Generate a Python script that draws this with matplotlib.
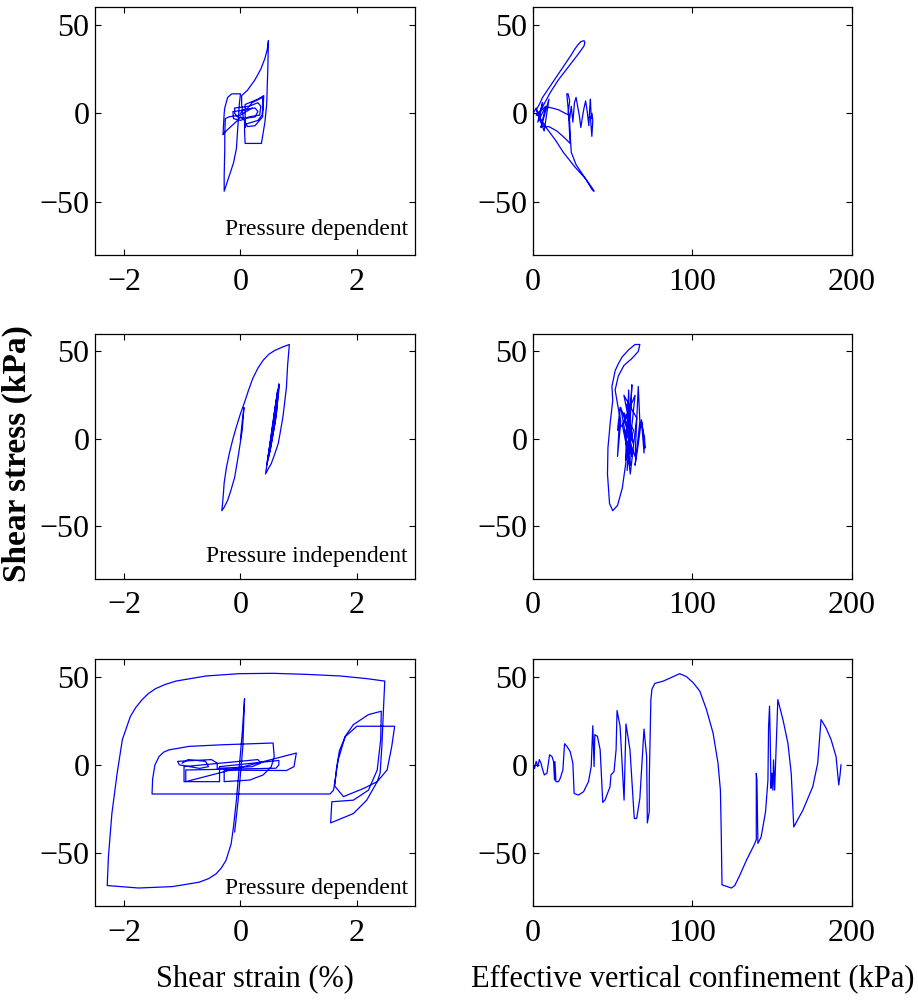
# Stress-strain and stress-path panels for three element responses

import matplotlib
matplotlib.use('Agg')
import matplotlib.pyplot as plt

# ---- top row: pressure dependent, small shaking
strain_top = [0, 0.05, 0.25, 0.3, 0.25, 0.05, -0.05, -0.1, -0.1, 0.15, 0.3, 0.35, 0.33, 0.15, 0.0,
              -0.12, -0.13, 0.1, 0.2, 0.38, 0.39, 0.37, 0.3, 0.1, 0.08, 0.08, 0.3, 0.4, 0.38, 0.25,
              0.12, 0.05, 0.02, 0.02, 0.12, 0.25, 0.35, 0.42, 0.46, 0.48, 0.47, 0.45, 0.42, 0.38, 0.36,
              0.08, 0.07, 0.07, 0.0, -0.05, -0.28, -0.3, -0.28, -0.27, -0.22, -0.15, 0.0, -0.02,
              -0.05, -0.07, -0.12, -0.2, -0.28, -0.28, -0.27, -0.27, -0.26, -0.2, 0.0, 0.1, 0.2]
stress_top = [0, 2, 3, 1, -2, -3, -2, 0, 3, 4, 6, 4, -1, -2, -4,
              -3, 1, 2, 6, 9, 4, -1, -4, -6, -8, 5, 8, 10, -2, -7,
              -7.5, -3, 5, 10, 13, 19, 25, 31, 36, 41, 25, 5, -5, -13, -17,
              -17, -10, -3, -2, -4, -11, -12, 0, 3, 9, 11, 11, 5,
              -10, -20, -28, -36, -44, -35, -20, -12, -3, -2, -1, 1, 3]
conf_top = [0, 2, 4, 6, 3, 8, 5, 10, 7, 2, 4, 6, 9, 12, 15, 18, 21, 24, 26, 28, 30, 32, 32.5, 32,
            30, 28, 25, 22, 19, 16, 13.5, 11, 8, 5,
            2, 7.7, 12, 16, 22.3, 23.3, 20, 15, 10, 6.7, 3, 4, 9, 14, 19, 26, 33, 37, 38.3, 37,
            33, 27, 24, 23.5, 23, 22, 21.2, 22, 23, 22, 23, 24, 25, 26, 27, 28, 29, 30, 31, 32,
            33, 34, 35, 35.5, 36, 36.5, 37, 37.5, 36.9, 36]
stress_top2 = [0, 3, -2, 6, -5, 4, -8, 8, -10, 2, 5, 9, 13, 17, 21, 25, 29, 33, 36, 38.5, 40.5, 41, 40, 38,
               35.5, 33, 29.5, 26, 22.5, 19, 15.5, 12, 7, 2,
               -1, 3.7, 3, 2, -1, -17, -14, -10, -7.5, -7.5, -1, -2, -9, -15, -22, -30, -37, -42, -44, -43,
               -37, -29, -22, -15, -5, 3, 11, 11, 7, 0, -3, 4, -5, 6, 9, 4, -1, -8, -2, 3,
               7, 1, -7, 2, 8, -3, 0, -4, -13, -2]

# ---- middle row: pressure independent
strain_mid = [0, 0.03, 0.06, 0.03, -0.03, -0.1, -0.17, -0.22, -0.28, -0.32, -0.3, -0.28, -0.24,
              -0.19, -0.13, -0.07, 0.0, 0.07, 0.14, 0.21, 0.3, 0.39, 0.49, 0.59, 0.72, 0.84, 0.81,
              0.79, 0.76, 0.73, 0.69, 0.65, 0.59, 0.53, 0.47, 0.43, 0.5, 0.58, 0.66, 0.62, 0.52,
              0.45, 0.52, 0.6, 0.67, 0.6, 0.5, 0.47, 0.55, 0.64, 0.58]
stress_mid = [0, 10, 18, 5, -8, -22, -30, -35, -39, -41, -34, -25, -16,
              -8, 0, 7, 14.5, 21, 28, 34.5, 40.5, 45, 48.5, 50.6, 52.5, 54, 42,
              29.7, 21, 12.7, 5, -2.5, -8.5, -14, -17.5, -20, -5, 12, 31.6, 15, -5,
              -15, 0, 18, 31, 10, -8, -12, 8, 28, 14]
conf_mid = [60, 58, 56, 53, 50, 48, 46.7, 47, 48.5, 50, 49.5, 51.5, 53.5, 56, 60, 64, 67, 66, 62, 57,
            53.5, 51.5, 53, 55, 53, 54.6, 53, 58, 61, 59, 62, 57, 63, 58, 60, 61, 56, 64, 59, 62, 60,
            55, 63, 57, 65, 61, 58, 64, 66, 67, 64, 66, 68, 69.6, 70, 68, 70.5]
stress_mid2 = [0, -15, -28, -38, -41, -37, -20, -5, 10, 22, 30, 39, 43, 47, 51, 54, 54, 50, 46, 42,
               36, 28, 20, 10, -10, 18, 5, 10, -5, 20, -10, 15, 5, -12, 28, -15, 8, 25, -18, 31, -8,
               18, -3, 25, 12, -20, 5, -10, 30, 10, -15, -3, 11, -8, 0, 10, -5]

# ---- bottom row: pressure dependent, strong shaking
strain_bot = [-1.0, -0.9, -0.6, -0.55, -0.7, -1.05, -1.08, -0.5, -0.4, -0.4, 0.2, 0.35, 0.3, -0.97,
              -0.97, -0.36, -0.36, 0.66, 0.66, 0.61, -0.94, -0.94, 0.96, 0.92, 0.79, -0.28, -0.28,
              0.16, 0.39, 0.53, 0.58, 0.56, -0.31, -0.88, -1.23, -1.32, -1.4, -1.47, -1.51, -1.52,
              1.54, 1.6, 1.68, 1.8, 1.94, 2.2, 2.42, 2.41, 2.35, 2.2, 1.94, 1.57, 1.55, 1.94, 2.17,
              2.35, 2.52, 2.6, 2.65, 2.0, 1.8, 1.7, 1.65, 1.62, 1.77, 2.12, 2.35, 2.4, 2.43, 2.46,
              2.48, 2.17, 1.71, 1.14, 0.56, -0.02, -0.59, -1.11, -1.3, -1.46, -1.58, -1.69, -1.8,
              -1.89, -1.95, -2.03, -2.12, -2.21, -2.27, -2.29, -1.75, -1.17, -0.71, -0.55, -0.42,
              -0.33, -0.25, -0.2, -0.16, -0.14, -0.12, -0.07, -0.02, 0.03, 0.07,
              0.04, 0.0, -0.04, -0.08, -0.1]
stress_bot = [1, 3, 2, -1, -2, 0, 2, 3, 1, -2, -1, 1, 3, -1,
              -9.5, -9.5, -1, 2.5, 0, -1.9, -2.9, -9.5, 6.7, -1, -3.2, -3, -9.5,
              -8.6, -5.7, -1, 4.7, 12.4, 11.4, 10.5, 8.5, 7.2, 4.7, 0, -8, -16.5,
              -16.5, -14.3, 2.9, 16.2, 22.8, 28.5, 30.4, 14.3, -2.9, -14.3, -20, -20.9, -32.9, -27.6, -20,
              -9.5, -2.9, 10.5, 21.9, 21.9, 16, 8, -2, -12, -18, -13.3, -9.5, -4.7, 10.5, 33.3,
              47.5, 48.9, 50.4, 51.3, 51.9, 51.7, 50.4, 47.5, 45.5, 43.2, 40.5, 37, 32.5,
              27.6, 22, 14.3, -4.8, -27.6, -52.3, -68.4, -69.8, -69, -66.5, -64.5, -61.8,
              -58.5, -54.2, -49, -44.7, -40, -35, -20, -1, 18, 37.5,
              10, -5, -20, -32, -38]
conf_bot = [0, 1, 2, 3, 4, 5, 5.8, 7.1, 8.75, 10.4, 11.9, 12.9, 13.5, 13.75, 14.4, 16, 17.1, 18.75,
            19.8, 21.25, 23.3, 25, 25.8, 28.5, 31.7, 34.8, 36.5, 37.5, 38.3, 38.75, 40.4, 42.1,
            43.75, 45.2, 48.3, 48.9, 50.8, 52.1, 52.7, 54.6, 57.1, 58.3, 60.8, 63.5, 65, 67, 69.6,
            71.25, 71.7, 72.9, 72.9, 73.9, 74.6, 76.4, 81.7, 92, 96.25, 100.4, 104.6, 108.75, 112.9,
            116, 117.5, 118, 118.5, 124.4, 126.5, 129.6, 133.75, 139, 140, 140, 140.4, 141, 143,
            145.8, 147.3, 147.7, 148.3, 148.75, 149.2, 149.8, 150.4, 150.8, 151.5, 153.5, 156.7,
            159.8, 161.9, 163.5, 169.2, 175.4, 178.5, 180.6, 183.75, 186.9, 190, 191.7, 192.5, 193.1]
stress_bot2 = [0, -2, 2, -1, 3, 1, -1.9, -5.7, -4.75, 5.7, 4.75, 1.9, -8.6, 1.9, -9.5, -9.5, -7.6, -2.85,
               12, 10.5, 7.6, 0.95, -16.2, -17.1, -15.2, -9.5, -0.95, 22.2, -0.95, 17.1, 16.2, 8.6,
               -21.3, -19.8, -12.4, -5.7, -3.8, 8.6, 30.8, 21.9, -20, 23.2, 8.6, -30.4, -30.4, -19, 20.3,
               4.75, -32.9, -26.6, -8.6, 37, 43, 46.2, 47.5, 51.7, 50, 46.6, 41.8, 31.4, 18,
               0.95, -14.3, -37, -68, -69.8, -68.4, -62.7, -54.2, -44.7, -42.4, -4.75, -8.5, -44.5, -41,
               -26.6, -8.6, 21.5, 33.3, 14.3, -13.3, -4.75, -14.3, 2.85, -14.3, 37, 25.7,
               12.4, -4.75, -35.2, -25.7, -12.4, 0.95, 25.7, 20.9, 14.3, 4.75, -11.4, -5.7, 0]

strain_ticks = [-2, 0, 2]
conf_ticks = [0, 100, 200]
stress_ticks = [-50, 0, 50]
notes = ['Pressure dependent', 'Pressure independent', 'Pressure dependent']

plt.rcParams['font.family'] = ['Liberation Serif', 'DejaVu Serif']
plt.rcParams['axes.linewidth'] = 0.9

fig = plt.figure(figsize=(9.18, 10.06), dpi=100)
rows = [(0.7465, 0.2465), (0.4245, 0.2435), (0.0994, 0.2455)]
left = [0.1035, 0.5806]
widths = [0.3486, 0.3475]
note_y = [0.081, 0.068, 0.049]

left_data = [(strain_top, stress_top), (strain_mid, stress_mid), (strain_bot, stress_bot)]
right_data = [(conf_top, stress_top2), (conf_mid, stress_mid2), (conf_bot, stress_bot2)]

for i, (y0, h) in enumerate(rows):
    for j in range(2):
        ax = fig.add_axes([left[j], y0, widths[j], h])
        if j == 0:
            xs, ys = left_data[i]
            ax.plot(xs, ys, color='#0000ff', lw=0.9)
            ax.set_xlim(-2.5, 3)
            ax.set_xticks(strain_ticks)
            ax.text(0.978, note_y[i], notes[i], transform=ax.transAxes, ha='right',
                    va='baseline', fontsize=17)
        else:
            xs, ys = right_data[i]
            ax.plot(xs, ys, color='#0000ff', lw=0.9)
            ax.set_xlim(0, 200)
            ax.set_xticks(conf_ticks)
        ax.set_ylim(-80, 60)
        ax.set_yticks(stress_ticks)
        ax.tick_params(direction='in', top=True, right=True, length=4, width=0.8, labelsize=23)
        ax.tick_params(axis='x', pad=9)
        ax.tick_params(axis='y', pad=4)
        if i == 2:
            if j == 0:
                ax.set_xlabel('Shear strain (%)', fontsize=22, labelpad=12)
            else:
                ax.set_xlabel('Effective vertical confinement (kPa)', fontsize=22, labelpad=12)

fig.text(0.019, 0.549, 'Shear stress (kPa)', rotation=90, ha='center', va='center',
         fontsize=24, fontweight='bold')

fig.savefig('out.png', dpi=100)
